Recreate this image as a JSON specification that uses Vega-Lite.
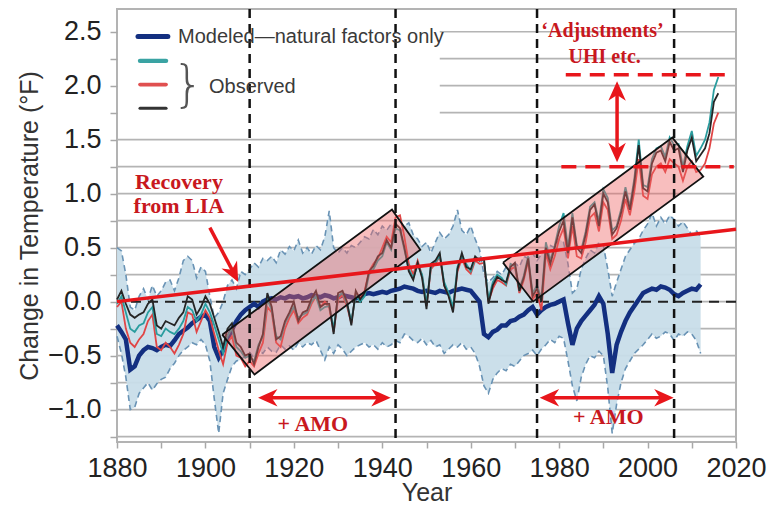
{
  "$schema": "https://vega.github.io/schema/vega-lite/v6.json",
  "width": 619,
  "height": 433,
  "autosize": "none",
  "padding": {"left": 117, "top": 9, "right": 35, "bottom": 66},
  "background": "white",
  "config": {
    "view": {"stroke": "#b3b3b3", "strokeWidth": 2},
    "axis": {
      "labelFont": "Liberation Sans",
      "labelFontSize": 27,
      "labelColor": "#222222",
      "titleFont": "Liberation Sans",
      "titleFontSize": 25,
      "titleFontWeight": "normal",
      "titleColor": "#333333",
      "tickColor": "#a8a8a8",
      "tickWidth": 1.5,
      "domain": false
    }
  },
  "resolve": {"axis": {"x": "independent", "y": "independent"}},
  "datasets": {
    "temps": [
      {"year":1880,"obs":0.02,"tea":-0.02,"red":-0.05,"mod":-0.22,"lo":-0.32,"hi":0.50},
      {"year":1881,"obs":0.10,"tea":0.05,"red":0.00,"mod":-0.28,"lo":-0.48,"hi":0.47},
      {"year":1882,"obs":-0.02,"tea":-0.10,"red":-0.25,"mod":-0.35,"lo":-0.70,"hi":0.25},
      {"year":1883,"obs":-0.12,"tea":-0.25,"red":-0.38,"mod":-0.63,"lo":-1.00,"hi":-0.05},
      {"year":1884,"obs":-0.15,"tea":-0.28,"red":-0.42,"mod":-0.60,"lo":-0.98,"hi":-0.08},
      {"year":1885,"obs":-0.12,"tea":-0.22,"red":-0.35,"mod":-0.50,"lo":-0.85,"hi":0.05},
      {"year":1886,"obs":-0.10,"tea":-0.20,"red":-0.30,"mod":-0.45,"lo":-0.80,"hi":0.12},
      {"year":1887,"obs":-0.02,"tea":-0.10,"red":-0.18,"mod":-0.42,"lo":-0.75,"hi":0.02},
      {"year":1888,"obs":0.02,"tea":-0.05,"red":-0.12,"mod":-0.43,"lo":-0.82,"hi":0.15},
      {"year":1889,"obs":-0.22,"tea":-0.30,"red":-0.42,"mod":-0.45,"lo":-0.76,"hi":0.05},
      {"year":1890,"obs":-0.25,"tea":-0.32,"red":-0.45,"mod":-0.42,"lo":-0.72,"hi":0.10},
      {"year":1891,"obs":-0.18,"tea":-0.25,"red":-0.38,"mod":-0.40,"lo":-0.70,"hi":0.18},
      {"year":1892,"obs":-0.20,"tea":-0.28,"red":-0.42,"mod":-0.41,"lo":-0.62,"hi":0.20},
      {"year":1893,"obs":-0.22,"tea":-0.30,"red":-0.48,"mod":-0.36,"lo":-0.57,"hi":0.10},
      {"year":1894,"obs":-0.15,"tea":-0.25,"red":-0.40,"mod":-0.30,"lo":-0.50,"hi":0.22},
      {"year":1895,"obs":-0.10,"tea":-0.18,"red":-0.30,"mod":-0.27,"lo":-0.45,"hi":0.38},
      {"year":1896,"obs":0.05,"tea":-0.05,"red":-0.10,"mod":-0.24,"lo":-0.42,"hi":0.42},
      {"year":1897,"obs":0.02,"tea":-0.08,"red":-0.12,"mod":-0.20,"lo":-0.38,"hi":0.38},
      {"year":1898,"obs":-0.12,"tea":-0.18,"red":-0.28,"mod":-0.17,"lo":-0.40,"hi":0.22},
      {"year":1899,"obs":-0.05,"tea":-0.12,"red":-0.18,"mod":-0.14,"lo":-0.35,"hi":0.32},
      {"year":1900,"obs":0.05,"tea":-0.02,"red":-0.08,"mod":-0.12,"lo":-0.40,"hi":0.28},
      {"year":1901,"obs":-0.02,"tea":-0.10,"red":-0.15,"mod":-0.18,"lo":-0.55,"hi":0.05},
      {"year":1902,"obs":-0.15,"tea":-0.22,"red":-0.30,"mod":-0.42,"lo":-0.90,"hi":-0.15},
      {"year":1903,"obs":-0.28,"tea":-0.35,"red":-0.45,"mod":-0.52,"lo":-1.22,"hi":-0.10},
      {"year":1904,"obs":-0.42,"tea":-0.48,"red":-0.58,"mod":-0.45,"lo":-0.85,"hi":0.00},
      {"year":1905,"obs":-0.25,"tea":-0.32,"red":-0.38,"mod":-0.35,"lo":-0.72,"hi":0.15},
      {"year":1906,"obs":-0.20,"tea":-0.25,"red":-0.32,"mod":-0.26,"lo":-0.60,"hi":0.20},
      {"year":1907,"obs":-0.38,"tea":-0.42,"red":-0.50,"mod":-0.18,"lo":-0.55,"hi":0.12},
      {"year":1908,"obs":-0.42,"tea":-0.46,"red":-0.52,"mod":-0.12,"lo":-0.54,"hi":0.28},
      {"year":1909,"obs":-0.50,"tea":-0.52,"red":-0.60,"mod":-0.08,"lo":-0.50,"hi":0.25},
      {"year":1910,"obs":-0.48,"tea":-0.50,"red":-0.55,"mod":-0.05,"lo":-0.47,"hi":0.30},
      {"year":1911,"obs":-0.58,"tea":-0.55,"red":-0.60,"mod":-0.02,"lo":-0.52,"hi":0.36},
      {"year":1912,"obs":-0.42,"tea":-0.40,"red":-0.48,"mod":-0.05,"lo":-0.45,"hi":0.32},
      {"year":1913,"obs":-0.30,"tea":-0.32,"red":-0.38,"mod":0.00,"lo":-0.48,"hi":0.40},
      {"year":1914,"obs":0.08,"tea":0.02,"red":-0.05,"mod":0.02,"lo":-0.42,"hi":0.38},
      {"year":1915,"obs":-0.05,"tea":-0.08,"red":-0.10,"mod":0.03,"lo":-0.46,"hi":0.42},
      {"year":1916,"obs":-0.35,"tea":-0.32,"red":-0.38,"mod":0.02,"lo":-0.47,"hi":0.36},
      {"year":1917,"obs":-0.32,"tea":-0.35,"red":-0.42,"mod":0.04,"lo":-0.40,"hi":0.48},
      {"year":1918,"obs":-0.18,"tea":-0.20,"red":-0.25,"mod":0.03,"lo":-0.44,"hi":0.44},
      {"year":1919,"obs":-0.10,"tea":-0.12,"red":-0.15,"mod":0.05,"lo":-0.41,"hi":0.51},
      {"year":1920,"obs":0.00,"tea":-0.05,"red":-0.08,"mod":0.04,"lo":-0.45,"hi":0.47},
      {"year":1921,"obs":-0.18,"tea":-0.15,"red":-0.20,"mod":0.05,"lo":-0.38,"hi":0.57},
      {"year":1922,"obs":-0.10,"tea":-0.12,"red":-0.15,"mod":0.03,"lo":-0.42,"hi":0.45},
      {"year":1923,"obs":-0.08,"tea":-0.10,"red":-0.12,"mod":0.04,"lo":-0.38,"hi":0.50},
      {"year":1924,"obs":0.03,"tea":0.00,"red":-0.02,"mod":0.06,"lo":-0.40,"hi":0.44},
      {"year":1925,"obs":0.10,"tea":0.05,"red":0.05,"mod":0.05,"lo":-0.36,"hi":0.52},
      {"year":1926,"obs":-0.05,"tea":-0.08,"red":-0.05,"mod":0.04,"lo":-0.45,"hi":0.48},
      {"year":1927,"obs":-0.02,"tea":-0.05,"red":0.00,"mod":0.06,"lo":-0.54,"hi":0.60},
      {"year":1928,"obs":-0.02,"tea":-0.04,"red":-0.06,"mod":0.05,"lo":-0.42,"hi":0.84},
      {"year":1929,"obs":-0.30,"tea":-0.25,"red":-0.28,"mod":0.03,"lo":-0.48,"hi":0.50},
      {"year":1930,"obs":0.08,"tea":0.05,"red":0.02,"mod":0.04,"lo":-0.40,"hi":0.45},
      {"year":1931,"obs":0.10,"tea":0.08,"red":0.06,"mod":0.06,"lo":-0.44,"hi":0.50},
      {"year":1932,"obs":0.00,"tea":-0.02,"red":-0.04,"mod":0.05,"lo":-0.50,"hi":0.45},
      {"year":1933,"obs":-0.22,"tea":-0.18,"red":-0.20,"mod":0.04,"lo":-0.46,"hi":0.52},
      {"year":1934,"obs":0.10,"tea":0.06,"red":0.08,"mod":0.03,"lo":-0.42,"hi":0.50},
      {"year":1935,"obs":0.02,"tea":0.00,"red":0.04,"mod":0.05,"lo":-0.40,"hi":0.55},
      {"year":1936,"obs":0.08,"tea":0.05,"red":0.10,"mod":0.07,"lo":-0.38,"hi":0.60},
      {"year":1937,"obs":0.28,"tea":0.25,"red":0.28,"mod":0.08,"lo":-0.42,"hi":0.58},
      {"year":1938,"obs":0.33,"tea":0.30,"red":0.35,"mod":0.07,"lo":-0.40,"hi":0.67},
      {"year":1939,"obs":0.42,"tea":0.38,"red":0.40,"mod":0.08,"lo":-0.44,"hi":0.62},
      {"year":1940,"obs":0.45,"tea":0.42,"red":0.50,"mod":0.09,"lo":-0.38,"hi":0.70},
      {"year":1941,"obs":0.57,"tea":0.55,"red":0.60,"mod":0.08,"lo":-0.42,"hi":0.66},
      {"year":1942,"obs":0.50,"tea":0.48,"red":0.55,"mod":0.10,"lo":-0.40,"hi":0.72},
      {"year":1943,"obs":0.72,"tea":0.68,"red":0.78,"mod":0.11,"lo":-0.36,"hi":0.68},
      {"year":1944,"obs":0.68,"tea":0.66,"red":0.80,"mod":0.12,"lo":-0.38,"hi":0.64},
      {"year":1945,"obs":0.50,"tea":0.48,"red":0.60,"mod":0.14,"lo":-0.30,"hi":0.70},
      {"year":1946,"obs":0.28,"tea":0.30,"red":0.35,"mod":0.13,"lo":-0.32,"hi":0.73},
      {"year":1947,"obs":0.20,"tea":0.22,"red":0.25,"mod":0.12,"lo":-0.36,"hi":0.62},
      {"year":1948,"obs":0.36,"tea":0.34,"red":0.38,"mod":0.10,"lo":-0.38,"hi":0.58},
      {"year":1949,"obs":0.22,"tea":0.25,"red":0.24,"mod":0.09,"lo":-0.34,"hi":0.51},
      {"year":1950,"obs":-0.07,"tea":-0.02,"red":-0.04,"mod":0.10,"lo":-0.40,"hi":0.55},
      {"year":1951,"obs":0.35,"tea":0.32,"red":0.30,"mod":0.09,"lo":-0.36,"hi":0.45},
      {"year":1952,"obs":0.38,"tea":0.36,"red":0.35,"mod":0.08,"lo":-0.42,"hi":0.55},
      {"year":1953,"obs":0.45,"tea":0.43,"red":0.42,"mod":0.10,"lo":-0.40,"hi":0.64},
      {"year":1954,"obs":0.15,"tea":0.18,"red":0.15,"mod":0.09,"lo":-0.48,"hi":0.58},
      {"year":1955,"obs":0.05,"tea":0.08,"red":0.06,"mod":0.08,"lo":-0.44,"hi":0.62},
      {"year":1956,"obs":-0.10,"tea":-0.05,"red":-0.08,"mod":0.10,"lo":-0.40,"hi":0.70},
      {"year":1957,"obs":0.30,"tea":0.32,"red":0.28,"mod":0.11,"lo":-0.42,"hi":0.85},
      {"year":1958,"obs":0.45,"tea":0.42,"red":0.40,"mod":0.12,"lo":-0.38,"hi":0.66},
      {"year":1959,"obs":0.32,"tea":0.35,"red":0.30,"mod":0.11,"lo":-0.44,"hi":0.62},
      {"year":1960,"obs":0.30,"tea":0.28,"red":0.26,"mod":0.10,"lo":-0.42,"hi":0.70},
      {"year":1961,"obs":0.42,"tea":0.40,"red":0.38,"mod":0.05,"lo":-0.48,"hi":0.58},
      {"year":1962,"obs":0.38,"tea":0.40,"red":0.35,"mod":0.00,"lo":-0.60,"hi":0.48},
      {"year":1963,"obs":0.40,"tea":0.38,"red":0.36,"mod":-0.30,"lo":-0.78,"hi":0.25},
      {"year":1964,"obs":-0.02,"tea":0.02,"red":0.00,"mod":-0.33,"lo":-0.85,"hi":0.18},
      {"year":1965,"obs":0.15,"tea":0.18,"red":0.12,"mod":-0.28,"lo":-0.72,"hi":0.22},
      {"year":1966,"obs":0.23,"tea":0.25,"red":0.20,"mod":-0.26,"lo":-0.66,"hi":0.28},
      {"year":1967,"obs":0.20,"tea":0.22,"red":0.18,"mod":-0.22,"lo":-0.62,"hi":0.25},
      {"year":1968,"obs":0.18,"tea":0.16,"red":0.15,"mod":-0.22,"lo":-0.64,"hi":0.32},
      {"year":1969,"obs":0.32,"tea":0.35,"red":0.30,"mod":-0.18,"lo":-0.58,"hi":0.28},
      {"year":1970,"obs":0.36,"tea":0.33,"red":0.32,"mod":-0.17,"lo":-0.60,"hi":0.36},
      {"year":1971,"obs":0.10,"tea":0.12,"red":0.08,"mod":-0.14,"lo":-0.55,"hi":0.32},
      {"year":1972,"obs":0.22,"tea":0.24,"red":0.20,"mod":-0.12,"lo":-0.50,"hi":0.42},
      {"year":1973,"obs":0.40,"tea":0.42,"red":0.38,"mod":-0.08,"lo":-0.48,"hi":0.40},
      {"year":1974,"obs":0.05,"tea":0.08,"red":0.02,"mod":-0.05,"lo":-0.45,"hi":0.45},
      {"year":1975,"obs":0.12,"tea":0.15,"red":0.08,"mod":-0.12,"lo":-0.50,"hi":0.38},
      {"year":1976,"obs":0.00,"tea":0.03,"red":-0.08,"mod":-0.08,"lo":-0.44,"hi":0.44},
      {"year":1977,"obs":0.50,"tea":0.55,"red":0.45,"mod":-0.05,"lo":-0.40,"hi":0.48},
      {"year":1978,"obs":0.35,"tea":0.38,"red":0.30,"mod":-0.03,"lo":-0.35,"hi":0.52},
      {"year":1979,"obs":0.50,"tea":0.52,"red":0.42,"mod":-0.02,"lo":-0.38,"hi":0.50},
      {"year":1980,"obs":0.65,"tea":0.70,"red":0.58,"mod":0.00,"lo":-0.32,"hi":0.58},
      {"year":1981,"obs":0.75,"tea":0.82,"red":0.68,"mod":0.02,"lo":-0.34,"hi":0.55},
      {"year":1982,"obs":0.45,"tea":0.50,"red":0.40,"mod":-0.20,"lo":-0.55,"hi":0.35},
      {"year":1983,"obs":0.78,"tea":0.82,"red":0.70,"mod":-0.40,"lo":-0.78,"hi":0.08},
      {"year":1984,"obs":0.50,"tea":0.52,"red":0.42,"mod":-0.25,"lo":-0.92,"hi":0.12},
      {"year":1985,"obs":0.45,"tea":0.48,"red":0.40,"mod":-0.18,"lo":-0.70,"hi":0.30},
      {"year":1986,"obs":0.62,"tea":0.65,"red":0.55,"mod":-0.13,"lo":-0.58,"hi":0.40},
      {"year":1987,"obs":0.85,"tea":0.88,"red":0.78,"mod":-0.08,"lo":-0.50,"hi":0.48},
      {"year":1988,"obs":0.90,"tea":0.92,"red":0.82,"mod":-0.03,"lo":-0.52,"hi":0.45},
      {"year":1989,"obs":0.70,"tea":0.74,"red":0.65,"mod":0.05,"lo":-0.46,"hi":0.55},
      {"year":1990,"obs":1.00,"tea":1.04,"red":0.92,"mod":-0.02,"lo":-0.50,"hi":0.52},
      {"year":1991,"obs":0.92,"tea":0.96,"red":0.85,"mod":-0.30,"lo":-0.80,"hi":0.30},
      {"year":1992,"obs":0.62,"tea":0.66,"red":0.58,"mod":-0.66,"lo":-1.22,"hi":0.05},
      {"year":1993,"obs":0.68,"tea":0.70,"red":0.62,"mod":-0.40,"lo":-0.95,"hi":0.18},
      {"year":1994,"obs":0.82,"tea":0.85,"red":0.75,"mod":-0.28,"lo":-0.75,"hi":0.30},
      {"year":1995,"obs":1.02,"tea":1.06,"red":0.95,"mod":-0.18,"lo":-0.62,"hi":0.42},
      {"year":1996,"obs":0.85,"tea":0.88,"red":0.80,"mod":-0.10,"lo":-0.55,"hi":0.48},
      {"year":1997,"obs":1.10,"tea":1.14,"red":1.02,"mod":-0.04,"lo":-0.48,"hi":0.54},
      {"year":1998,"obs":1.45,"tea":1.50,"red":1.32,"mod":0.02,"lo":-0.44,"hi":0.58},
      {"year":1999,"obs":1.05,"tea":1.08,"red":0.98,"mod":0.08,"lo":-0.40,"hi":0.66},
      {"year":2000,"obs":1.02,"tea":1.06,"red":0.95,"mod":0.10,"lo":-0.35,"hi":0.72},
      {"year":2001,"obs":1.28,"tea":1.32,"red":1.18,"mod":0.12,"lo":-0.30,"hi":0.82},
      {"year":2002,"obs":1.38,"tea":1.42,"red":1.25,"mod":0.11,"lo":-0.34,"hi":0.70},
      {"year":2003,"obs":1.40,"tea":1.44,"red":1.28,"mod":0.14,"lo":-0.32,"hi":0.78},
      {"year":2004,"obs":1.30,"tea":1.34,"red":1.20,"mod":0.13,"lo":-0.28,"hi":0.72},
      {"year":2005,"obs":1.48,"tea":1.52,"red":1.32,"mod":0.11,"lo":-0.30,"hi":0.80},
      {"year":2006,"obs":1.40,"tea":1.45,"red":1.28,"mod":0.07,"lo":-0.36,"hi":0.76},
      {"year":2007,"obs":1.42,"tea":1.46,"red":1.25,"mod":0.05,"lo":-0.30,"hi":0.70},
      {"year":2008,"obs":1.20,"tea":1.25,"red":1.12,"mod":0.08,"lo":-0.32,"hi":0.74},
      {"year":2009,"obs":1.40,"tea":1.44,"red":1.25,"mod":0.10,"lo":-0.28,"hi":0.68},
      {"year":2010,"obs":1.52,"tea":1.58,"red":1.30,"mod":0.12,"lo":-0.30,"hi":0.62},
      {"year":2011,"obs":1.30,"tea":1.35,"red":1.20,"mod":0.11,"lo":-0.36,"hi":0.66},
      {"year":2012,"obs":1.36,"tea":1.42,"red":1.22,"mod":0.16,"lo":-0.48,"hi":0.60},
      {"year":2013,"obs":1.42,"tea":1.50,"red":1.28},
      {"year":2014,"obs":1.56,"tea":1.66,"red":1.42},
      {"year":2015,"obs":1.85,"tea":1.96,"red":1.65},
      {"year":2016,"obs":1.93,"tea":2.08,"red":1.75}
    ],
    "boxes": [
      {"box":1,"x":1903.8,"lo":-0.306,"hi":-0.306},
      {"box":1,"x":1911.1,"lo":-0.676,"hi":-0.086},
      {"box":1,"x":1942.2,"lo":0.283,"hi":0.852},
      {"box":1,"x":1948.6,"lo":0.481,"hi":0.481},
      {"box":2,"x":1967.3,"lo":0.361,"hi":0.361},
      {"box":2,"x":1974.1,"lo":0.0,"hi":0.567},
      {"box":2,"x":2005.6,"lo":0.947,"hi":1.519},
      {"box":2,"x":2012.6,"lo":1.157,"hi":1.157}
    ],
    "corners": [
      {"box":1,"k":1,"x":1903.8,"y":-0.306},
      {"box":1,"k":2,"x":1911.1,"y":-0.676},
      {"box":1,"k":3,"x":1948.6,"y":0.481},
      {"box":1,"k":4,"x":1942.2,"y":0.852},
      {"box":1,"k":5,"x":1903.8,"y":-0.306},
      {"box":2,"k":1,"x":1967.3,"y":0.361},
      {"box":2,"k":2,"x":1974.1,"y":0.0},
      {"box":2,"k":3,"x":2012.6,"y":1.157},
      {"box":2,"k":4,"x":2005.6,"y":1.519},
      {"box":2,"k":5,"x":1967.3,"y":0.361}
    ]
  },
  "layer": [
    {
      "data": {"values": [
        {"g": -1.25, "s": 1880, "e": 2020}, {"g": -1.0, "s": 1880, "e": 2020}, {"g": -0.75, "s": 1880, "e": 2020},
        {"g": -0.5, "s": 1880, "e": 2020}, {"g": -0.25, "s": 1880, "e": 2020}, {"g": 0.0, "s": 1880, "e": 2020},
        {"g": 0.25, "s": 1880, "e": 2020}, {"g": 0.5, "s": 1880, "e": 2020}, {"g": 0.75, "s": 1880, "e": 2020},
        {"g": 1.0, "s": 1880, "e": 2020}, {"g": 1.25, "s": 1880, "e": 2020}, {"g": 1.5, "s": 1880, "e": 2020},
        {"g": 1.75, "s": 1953, "e": 2020}, {"g": 2.0, "s": 1953, "e": 2020}, {"g": 2.25, "s": 1953, "e": 2020},
        {"g": 2.5, "s": 1953, "e": 2020}
      ]},
      "mark": {"type": "rule", "color": "#b4b4b4", "strokeWidth": 1.6, "opacity": 1},
      "encoding": {
        "x": {"field": "s", "type": "quantitative", "scale": {"domain": [1880, 2020], "nice": false, "zero": false},
          "axis": {"title": "Year", "grid": false,
            "values": [1880,1890,1900,1910,1920,1930,1940,1950,1960,1970,1980,1990,2000,2010,2020],
            "labelExpr": "datum.value % 20 == 0 ? '' + datum.value : ''",
            "tickSize": 6, "labelPadding": 7, "titlePadding": -1, "labelFlush": false}},
        "x2": {"field": "e"},
        "y": {"field": "g", "type": "quantitative", "scale": {"domain": [-1.3, 2.71], "nice": false, "zero": false},
          "axis": {"title": "Change in Temperature (°F)", "grid": false,
            "values": [-1.25,-1,-0.75,-0.5,-0.25,0,0.25,0.5,0.75,1,1.25,1.5,1.75,2,2.25,2.5],
            "labelExpr": "round(datum.value * 100) % 50 == 0 ? format(datum.value, '.1f') : ''",
            "tickSize": 7, "labelPadding": 9, "titlePadding": 5, "labelFlush": false}}
      }
    },
    {
      "data": {"name": "temps"},
      "mark": {"type": "area", "color": "#c8dde9", "opacity": 0.95},
      "encoding": {
        "x": {"field": "year", "type": "quantitative", "axis": null},
        "y": {"field": "lo", "type": "quantitative", "axis": null},
        "y2": {"field": "hi"}
      }
    },
    {
      "data": {"name": "temps"},
      "mark": {"type": "line", "color": "#6993b5", "strokeWidth": 1.6, "strokeDash": [6, 4]},
      "encoding": {
        "x": {"field": "year", "type": "quantitative", "axis": null},
        "y": {"field": "hi", "type": "quantitative", "axis": null}
      }
    },
    {
      "data": {"name": "temps"},
      "mark": {"type": "line", "color": "#6993b5", "strokeWidth": 1.6, "strokeDash": [6, 4]},
      "encoding": {
        "x": {"field": "year", "type": "quantitative", "axis": null},
        "y": {"field": "lo", "type": "quantitative", "axis": null}
      }
    },
    {
      "data": {"values": [{"v": 0}]},
      "mark": {"type": "rule", "color": "#222222", "strokeWidth": 2, "strokeDash": [10, 7]},
      "encoding": {
        "y": {"field": "v", "type": "quantitative", "axis": null}
      }
    },
    {
      "data": {"name": "temps"},
      "mark": {"type": "line", "color": "#132f80", "strokeWidth": 4.5},
      "encoding": {
        "x": {"field": "year", "type": "quantitative", "axis": null},
        "y": {"field": "mod", "type": "quantitative", "axis": null}
      }
    },
    {
      "data": {"name": "temps"},
      "mark": {"type": "line", "color": "#e04545", "strokeWidth": 1.8},
      "encoding": {
        "x": {"field": "year", "type": "quantitative", "axis": null},
        "y": {"field": "red", "type": "quantitative", "axis": null}
      }
    },
    {
      "data": {"name": "temps"},
      "mark": {"type": "line", "color": "#2a9d9f", "strokeWidth": 1.8},
      "encoding": {
        "x": {"field": "year", "type": "quantitative", "axis": null},
        "y": {"field": "tea", "type": "quantitative", "axis": null}
      }
    },
    {
      "data": {"name": "temps"},
      "mark": {"type": "line", "color": "#252525", "strokeWidth": 1.8},
      "encoding": {
        "x": {"field": "year", "type": "quantitative", "axis": null},
        "y": {"field": "obs", "type": "quantitative", "axis": null}
      }
    },
    {
      "data": {"name": "boxes"},
      "mark": {"type": "area", "color": "#ee6464", "opacity": 0.42},
      "encoding": {
        "x": {"field": "x", "type": "quantitative", "axis": null},
        "y": {"field": "lo", "type": "quantitative", "axis": null},
        "y2": {"field": "hi"},
        "detail": {"field": "box", "type": "nominal"}
      }
    },
    {
      "data": {"name": "corners"},
      "mark": {"type": "line", "color": "#111111", "strokeWidth": 1.8},
      "encoding": {
        "x": {"field": "x", "type": "quantitative", "axis": null},
        "y": {"field": "y", "type": "quantitative", "axis": null},
        "detail": {"field": "box", "type": "nominal"},
        "order": {"field": "k", "type": "quantitative"}
      }
    },
    {
      "data": {"values": [{"yr": 1910}, {"yr": 1943}, {"yr": 1975}, {"yr": 2006}]},
      "mark": {"type": "rule", "color": "#111111", "strokeWidth": 2.5, "strokeDash": [9, 6]},
      "encoding": {
        "x": {"field": "yr", "type": "quantitative", "axis": null}
      }
    },
    {
      "data": {"values": [{"yr": 1880, "v": 0.0}, {"yr": 2020, "v": 0.67}]},
      "mark": {"type": "line", "color": "#e8161b", "strokeWidth": 3.5},
      "encoding": {
        "x": {"field": "yr", "type": "quantitative", "axis": null},
        "y": {"field": "v", "type": "quantitative", "axis": null}
      }
    },
    {
      "data": {"values": [{"a": 1981.5, "b": 2019.5, "v": 2.10}, {"a": 1980.5, "b": 2019.5, "v": 1.25}]},
      "mark": {"type": "rule", "color": "#e8161b", "strokeWidth": 3.5, "strokeDash": [15, 9]},
      "encoding": {
        "x": {"field": "a", "type": "quantitative", "axis": null},
        "x2": {"field": "b"},
        "y": {"field": "v", "type": "quantitative", "axis": null}
      }
    },
    {
      "data": {"values": [
        {"a": 1913.0, "b": 1940.8, "p": -0.89, "q": -0.89},
        {"a": 1976.7, "b": 2004.8, "p": -0.89, "q": -0.89},
        {"a": 1993.1, "b": 1993.1, "p": 1.34, "q": 1.99},
        {"a": 1901.0, "b": 1906.6, "p": 0.685, "q": 0.25}
      ]},
      "mark": {"type": "rule", "color": "#e8161b", "strokeWidth": 3.5},
      "encoding": {
        "x": {"field": "a", "type": "quantitative", "axis": null},
        "x2": {"field": "b"},
        "y": {"field": "p", "type": "quantitative", "axis": null},
        "y2": {"field": "q"}
      }
    },
    {
      "data": {"values": [{"x": 1939.7, "y": -0.89}, {"x": 2003.7, "y": -0.89}]},
      "mark": {"type": "point", "shape": "M 1 0 L -1 -0.9 L -0.4 0 L -1 0.9 Z", "filled": true, "color": "#e8161b", "opacity": 1, "size": 380, "angle": 0},
      "encoding": {
        "x": {"field": "x", "type": "quantitative", "axis": null},
        "y": {"field": "y", "type": "quantitative", "axis": null}
      }
    },
    {
      "data": {"values": [{"x": 1914.1, "y": -0.89}, {"x": 1977.8, "y": -0.89}]},
      "mark": {"type": "point", "shape": "M 1 0 L -1 -0.9 L -0.4 0 L -1 0.9 Z", "filled": true, "color": "#e8161b", "opacity": 1, "size": 380, "angle": 180},
      "encoding": {
        "x": {"field": "x", "type": "quantitative", "axis": null},
        "y": {"field": "y", "type": "quantitative", "axis": null}
      }
    },
    {
      "data": {"values": [{"x": 1993.1, "y": 1.95}]},
      "mark": {"type": "point", "shape": "M 1 0 L -1 -0.9 L -0.4 0 L -1 0.9 Z", "filled": true, "color": "#e8161b", "opacity": 1, "size": 380, "angle": 270},
      "encoding": {
        "x": {"field": "x", "type": "quantitative", "axis": null},
        "y": {"field": "y", "type": "quantitative", "axis": null}
      }
    },
    {
      "data": {"values": [{"x": 1993.1, "y": 1.38}]},
      "mark": {"type": "point", "shape": "M 1 0 L -1 -0.9 L -0.4 0 L -1 0.9 Z", "filled": true, "color": "#e8161b", "opacity": 1, "size": 380, "angle": 90},
      "encoding": {
        "x": {"field": "x", "type": "quantitative", "axis": null},
        "y": {"field": "y", "type": "quantitative", "axis": null}
      }
    },
    {
      "data": {"values": [{"x": 1906.4, "y": 0.263}]},
      "mark": {"type": "point", "shape": "M 1 0 L -1 -0.9 L -0.4 0 L -1 0.9 Z", "filled": true, "color": "#e8161b", "opacity": 1, "size": 380, "angle": 62.6},
      "encoding": {
        "x": {"field": "x", "type": "quantitative", "axis": null},
        "y": {"field": "y", "type": "quantitative", "axis": null}
      }
    },
    {
      "data": {"values": [
        {"t": "Recovery", "x": 1894.0, "y": 1.11},
        {"t": "from LIA", "x": 1894.0, "y": 0.89},
        {"t": "+ AMO", "x": 1924.3, "y": -1.13},
        {"t": "+ AMO", "x": 1991.1, "y": -1.065}
      ]},
      "mark": {"type": "text", "font": "Liberation Serif", "fontWeight": "bold", "fontSize": 22, "color": "#c8181e", "align": "center", "baseline": "middle"},
      "encoding": {
        "x": {"field": "x", "type": "quantitative", "axis": null},
        "y": {"field": "y", "type": "quantitative", "axis": null},
        "text": {"field": "t"}
      }
    },
    {
      "data": {"values": [
        {"t": "‘Adjustments’", "x": 1989.8, "y": 2.51},
        {"t": "UHI etc.", "x": 1990.3, "y": 2.27}
      ]},
      "mark": {"type": "text", "font": "Liberation Serif", "fontWeight": "bold", "fontSize": 20, "color": "#c8181e", "align": "center", "baseline": "middle"},
      "encoding": {
        "x": {"field": "x", "type": "quantitative", "axis": null},
        "y": {"field": "y", "type": "quantitative", "axis": null},
        "text": {"field": "t"}
      }
    },
    {
      "data": {"values": [
        {"s": "model", "a": 1884.75, "b": 1891.5, "v": 2.455},
        {"s": "teal", "a": 1885.2, "b": 1891.1, "v": 2.23},
        {"s": "red", "a": 1885.2, "b": 1891.1, "v": 2.01},
        {"s": "black", "a": 1885.2, "b": 1891.1, "v": 1.79}
      ]},
      "mark": {"type": "rule", "strokeCap": "round"},
      "encoding": {
        "x": {"field": "a", "type": "quantitative", "axis": null},
        "x2": {"field": "b"},
        "y": {"field": "v", "type": "quantitative", "axis": null},
        "color": {"field": "s", "type": "nominal", "scale": {"domain": ["model", "teal", "red", "black"], "range": ["#132f80", "#3aa3a3", "#e05050", "#333333"]}, "legend": null},
        "strokeWidth": {"field": "s", "type": "nominal", "scale": {"domain": ["model", "teal", "red", "black"], "range": [5, 3, 3, 3]}, "legend": null}
      }
    },
    {
      "data": {"values": [
        {"t": "Modeled—natural factors only", "x": 1893.8, "y": 2.455},
        {"t": "Observed", "x": 1900.8, "y": 1.99}
      ]},
      "mark": {"type": "text", "font": "Liberation Sans", "fontSize": 20, "color": "#3a3a3a", "align": "left", "baseline": "middle"},
      "encoding": {
        "x": {"field": "x", "type": "quantitative", "axis": null},
        "y": {"field": "y", "type": "quantitative", "axis": null},
        "text": {"field": "t"}
      }
    },
    {
      "data": {"values": [{"t": "}", "x": 1896.1, "y": 2.0}]},
      "mark": {"type": "text", "font": "DejaVu Sans", "fontWeight": 200, "fontSize": 50, "color": "#555555", "align": "center", "baseline": "middle"},
      "encoding": {
        "x": {"field": "x", "type": "quantitative", "axis": null},
        "y": {"field": "y", "type": "quantitative", "axis": null},
        "text": {"field": "t"}
      }
    }
  ]
}
